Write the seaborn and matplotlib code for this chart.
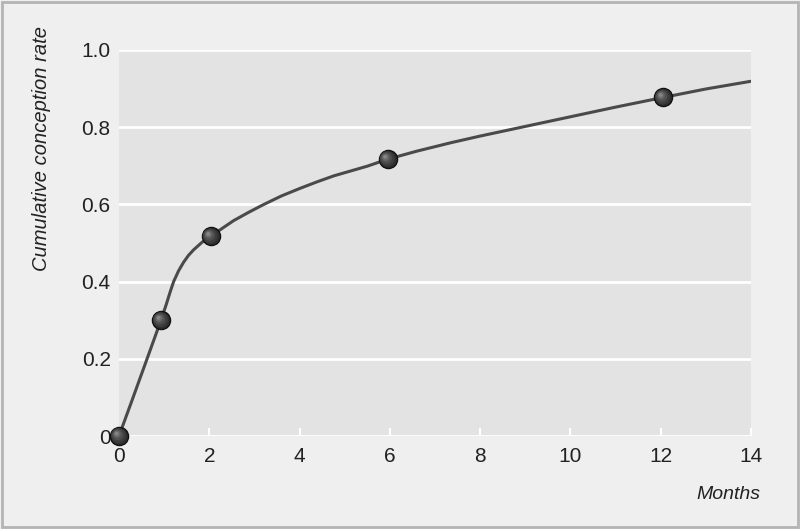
import matplotlib

matplotlib.use("Agg")
import matplotlib.pyplot as plt
import matplotlib.transforms as mtransforms
import pandas as pd
import seaborn as sns

# observed points (months, cumulative conception rate)
months = [0, 0.93, 2.03, 5.95, 12.05]
rate = [0.0, 0.30, 0.517, 0.717, 0.877]

# fitted curve
curve_months = [0, 0.3, 0.6, 0.93, 1.05, 1.13, 1.21, 1.32, 1.43, 1.54, 1.65, 1.85, 2.03,
                2.3, 2.54, 2.88, 3.21, 3.6, 4.02, 4.4, 4.76, 5.5, 5.95, 6.6, 7.36, 8.0,
                9.0, 10.0, 11.0, 12.05, 13.0, 14.0]
curve_rate = [0.0, 0.096, 0.193, 0.30, 0.342, 0.372, 0.40, 0.428, 0.45, 0.468, 0.482, 0.503,
              0.517, 0.539, 0.558, 0.58, 0.600, 0.622, 0.642, 0.659, 0.674, 0.699, 0.717,
              0.738, 0.76, 0.777, 0.802, 0.827, 0.852, 0.877, 0.899, 0.919]

x_ticks = [0, 2, 4, 6, 8, 10, 12, 14]
y_ticks = [0, 0.2, 0.4, 0.6, 0.8, 1.0]
y_labels = ["0", "0.2", "0.4", "0.6", "0.8", "1.0"]

sns.set_theme(style="darkgrid")
plt.rcParams["font.family"] = ["Liberation Sans Narrow", "Liberation Sans", "DejaVu Sans"]

pts = pd.DataFrame({"Months": months, "rate": rate})
crv = pd.DataFrame({"Months": curve_months, "rate": curve_rate})

fig = plt.figure(figsize=(8, 5.29), dpi=100, facecolor="#efefef")
ax = fig.add_axes([0.14875, 0.1758, 0.79, 0.7297])
ax.set_facecolor("#e3e3e3")

sns.lineplot(data=crv, x="Months", y="rate", color="#4a4a4a", lw=2.2, ax=ax, zorder=3)

# shaded "sphere" markers: dark base plus lighter layers shifted up-left
sns.scatterplot(data=pts, x="Months", y="rate", s=170, color="#2e2e2e",
                edgecolor="#111111", linewidth=1.0, ax=ax, zorder=4, clip_on=False)
layers = [(115, "#3d3d3d", 0.4), (65, "#505050", 0.9), (28, "#686868", 1.4), (8, "#858585", 1.7)]
for size, col, off in layers:
    tr = mtransforms.offset_copy(ax.transData, fig=fig, x=-off, y=off, units="points")
    ax.scatter(months, rate, s=size, color=col, edgecolor="none", transform=tr,
               zorder=5, clip_on=False)

ax.set_xlim(0, 14)
ax.set_ylim(0, 1.0)
ax.set_xticks(x_ticks)
ax.set_yticks(y_ticks)
ax.set_yticklabels(y_labels)
ax.grid(axis="x", visible=False)
ax.grid(axis="y", color="white", lw=2)
for s in ax.spines.values():
    s.set_visible(False)
ax.tick_params(axis="x", direction="in", length=6, width=1.5, color="white",
               bottom=True, labelsize=15, pad=8, labelcolor="#222222")
ax.tick_params(axis="y", length=0, labelsize=15, pad=6, labelcolor="#222222")

ax.set_xlabel("Months", style="italic", fontsize=14, color="#222222")
ax.xaxis.set_label_coords(1.015, -0.13)
ax.xaxis.label.set_horizontalalignment("right")
ax.set_ylabel("Cumulative conception rate", style="italic", fontsize=14.5, color="#222222")
ax.yaxis.set_label_coords(-0.107, 0.745)

# light grey frame around the whole picture
fig.patches.append(plt.Rectangle((0.003, 0.004), 0.994, 0.992, transform=fig.transFigure,
                                 fill=False, edgecolor="#b4b4b4", lw=2))

fig.savefig("out.png", dpi=100, facecolor=fig.get_facecolor())
